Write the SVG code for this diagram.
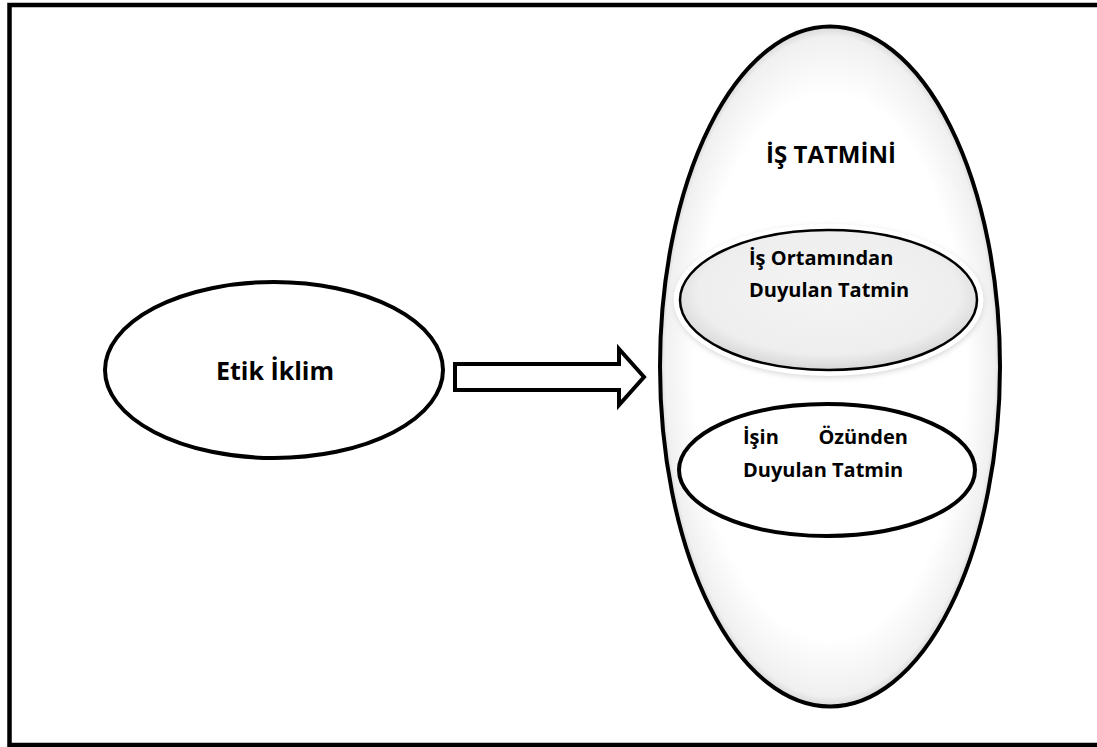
<svg xmlns="http://www.w3.org/2000/svg" width="1097" height="747" viewBox="0 0 1097 747">
<defs>
<radialGradient id="bigShade" cx="50%" cy="50%" r="50%">
<stop offset="0.8" stop-color="#ffffff"/>
<stop offset="0.97" stop-color="#f0f0f0"/>
<stop offset="1" stop-color="#d8d8d8"/>
</radialGradient>
<radialGradient id="grayFill" cx="50%" cy="45%" r="55%">
<stop offset="0" stop-color="#f4f4f4"/>
<stop offset="0.8" stop-color="#eeeeee"/>
<stop offset="1" stop-color="#d6d6d6"/>
</radialGradient>
<filter id="soft" x="-10%" y="-20%" width="120%" height="140%">
<feGaussianBlur stdDeviation="3"/>
</filter>
</defs>
<style>
.t{font-family:"Open Sans","Liberation Sans",sans-serif;font-weight:700;fill:#000}
.bk{fill:none;stroke:#000}
</style>
<rect x="0" y="0" width="1097" height="747" fill="#fff"/>
<rect x="9.5" y="5" width="1110" height="740" fill="none" stroke="#000" stroke-width="4.5"/>

<g id="node-is-tatmini">
<ellipse cx="830" cy="366.5" rx="170" ry="340" fill="url(#bigShade)" stroke="#000" stroke-width="4"/>
<text class="t" x="831" y="163" font-size="24" text-anchor="middle">İŞ TATMİNİ</text>
</g>

<g id="node-is-ortamindan">
<ellipse cx="829" cy="302" rx="154" ry="75" fill="#cfcfcf" filter="url(#soft)"/>
<ellipse cx="828.5" cy="300" rx="155" ry="76" fill="#ffffff"/>
<ellipse cx="828.5" cy="300" rx="148.5" ry="70" fill="url(#grayFill)" stroke="#000" stroke-width="2.5"/>
<text class="t" x="749" y="265" font-size="20">İş Ortamından</text>
<text class="t" x="749" y="297" font-size="20">Duyulan Tatmin</text>
</g>

<g id="node-isin-ozunden">
<ellipse cx="827" cy="470" rx="148" ry="66" fill="#fff" stroke="#000" stroke-width="4"/>
<text class="t" x="743" y="444" font-size="20">İşin</text>
<text class="t" x="908" y="444" font-size="20" text-anchor="end">Özünden</text>
<text class="t" x="743" y="477" font-size="20">Duyulan Tatmin</text>
</g>

<g id="node-etik-iklim">
<ellipse cx="274" cy="370" rx="169" ry="88" fill="#fff" stroke="#000" stroke-width="4"/>
<text class="t" x="275" y="380" font-size="25" text-anchor="middle">Etik İklim</text>
</g>

<g id="connectors">
<polygon points="455,364 619,364 619,349 644,377 619,405 619,390 455,390" fill="#fff" stroke="#000" stroke-width="4" stroke-linejoin="miter"/>
</g>
</svg>
